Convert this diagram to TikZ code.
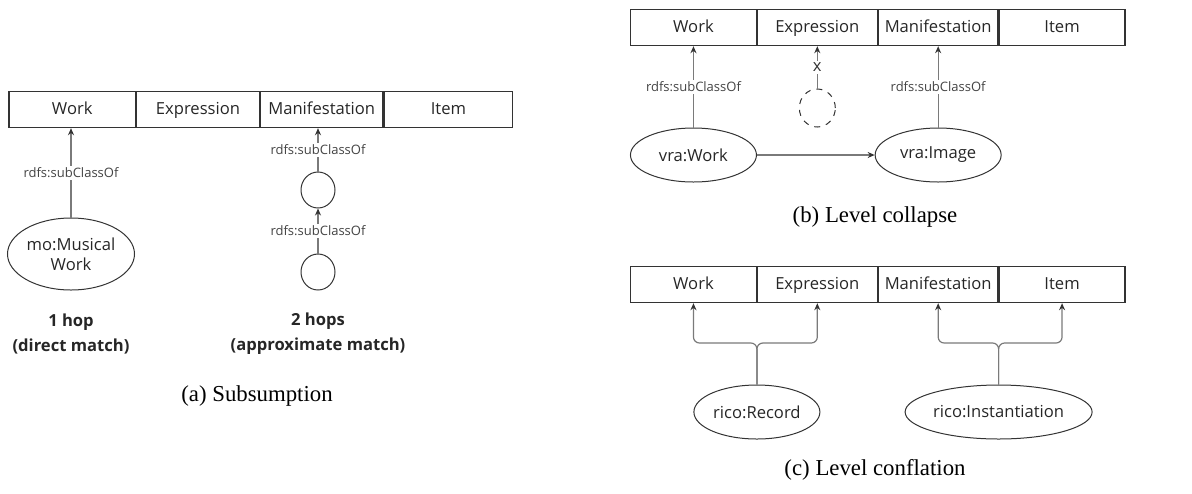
\documentclass[tikz,border=0pt]{standalone}
\usepackage{fontspec}
\setmainfont{Liberation Serif}
\setsansfont{Open Sans}
\usetikzlibrary{arrows.meta,shapes.geometric,positioning}

\definecolor{boxline}{HTML}{333333}
\definecolor{linkgray}{HTML}{7a7a7a}
\definecolor{labelgray}{HTML}{444444}

\tikzset{
cell/.style={draw=boxline, line width=0.6pt, minimum height=18pt, inner sep=0pt,
  text height=6.3pt, text depth=1.9pt,
  font=\sffamily\fontsize{8.3}{10}\selectfont, text=black!85},
cls/.style={ellipse, draw=boxline, line width=0.5pt, inner sep=0pt,
  font=\sffamily\fontsize{8.3}{10}\selectfont, text=black!85, align=center},
link/.style={draw=linkgray, line width=0.6pt, -{Stealth[length=3.5pt,width=3pt,color=boxline]}},
rel/.style={fill=white, inner sep=1pt, text=labelgray, font=\sffamily\fontsize{6.5}{8}\selectfont},
hops/.style={font=\sffamily\bfseries\fontsize{8.3}{12.6}\selectfont, align=center, text=black!85},
caption/.style={font=\fontsize{11.4}{13}\selectfont}
}

\begin{document}
\begin{tikzpicture}[x=0.5pt, y=-0.5pt]
\useasboundingbox (0,0) rectangle (1192,493);

% (a) subsumption
\node[cell, minimum width=63.35pt, anchor=north west] (aw) at (8.3,91) {Work};
\node[cell, minimum width=61.2pt, right=0pt of aw] (ae) {Expression};
\node[cell, minimum width=61.3pt, right=0pt of ae] (am) {Manifestation};
\node[cell, minimum width=64.2pt, right=0pt of am] (ai) {Item};

\node[cls, minimum width=63.5pt, minimum height=36pt] (mwork) at (71,254) {mo:Musical\\Work};
\node[cls, minimum width=17pt, minimum height=18pt] (c1) at (318,190) {};
\node[cls, minimum width=17pt, minimum height=18pt] (c2) at (318,272) {};

\draw[link] (mwork.north) -- (mwork.north |- aw.south) node[rel, midway] {rdfs:subClassOf};
\draw[link] (c1.north) -- (c1.north |- am.south) node[rel, midway] {rdfs:subClassOf};
\draw[link] (c2.north) -- (c1.south) node[rel, midway] {rdfs:subClassOf};

\node[hops] (onehop) at (71,334) {1 hop\\(direct match)};
\node[hops] (twohop) at (318,334) {2 hops\\(approximate match)};
\node[caption] (capa) at (257,396) {(a) Subsumption};

% (b) level collapse
\node[cell, minimum width=62.85pt, anchor=north west] (bw) at (630,9) {Work};
\node[cell, minimum width=59.8pt, right=0pt of bw] (be) {Expression};
\node[cell, minimum width=59.85pt, right=0pt of be] (bm) {Manifestation};
\node[cell, minimum width=62.85pt, right=0pt of bm] (bi) {Item};

\node[cls, minimum width=63pt, minimum height=27pt] (vwork) at (bw.south |- 0,155) {vra:Work};
\node[cls, minimum width=63pt, minimum height=27pt] (vimage) at (bm.south |- 0,155) {vra:Image};
\node[cls, dashed, minimum width=18pt, minimum height=19pt] (gap) at (be.south |- 0,108) {};

\draw[link] (vwork.north) -- (bw.south) node[rel, midway] {rdfs:subClassOf};
\draw[link] (vimage.north) -- (bm.south) node[rel, midway] {rdfs:subClassOf};
\draw[link] (gap.north) -- (be.south) node[rel, midway, text=black!80, font=\sffamily\fontsize{8.3}{9}\selectfont] {x};
\draw[link] (vwork.east) -- (vimage.west);

\node[caption] (capb) at (875,217) {(b) Level collapse};

% (c) level conflation
\node[cell, minimum width=62.85pt, anchor=north west] (cw) at (630,266) {Work};
\node[cell, minimum width=59.8pt, right=0pt of cw] (ce) {Expression};
\node[cell, minimum width=59.85pt, right=0pt of ce] (cm) {Manifestation};
\node[cell, minimum width=62.85pt, right=0pt of cm] (ci) {Item};

\node[cls, minimum width=63pt, minimum height=27pt] (record) at (cw.south east |- 0,412) {rico:Record};
\node[cls, minimum width=93.5pt, minimum height=27pt] (inst) at (cm.south east |- 0,412) {rico:Instantiation};

\coordinate (fork) at (0,343);
\draw[link, rounded corners=3pt] (record.north) -- (record.north |- fork) -| (cw.south);
\draw[link, rounded corners=3pt] (record.north) -- (record.north |- fork) -| (ce.south);
\draw[link, rounded corners=3pt] (inst.north) -- (inst.north |- fork) -| (cm.south);
\draw[link, rounded corners=3pt] (inst.north) -- (inst.north |- fork) -| (ci.south);

\node[caption] (capc) at (875,470) {(c) Level conflation};

\end{tikzpicture}
\end{document}
